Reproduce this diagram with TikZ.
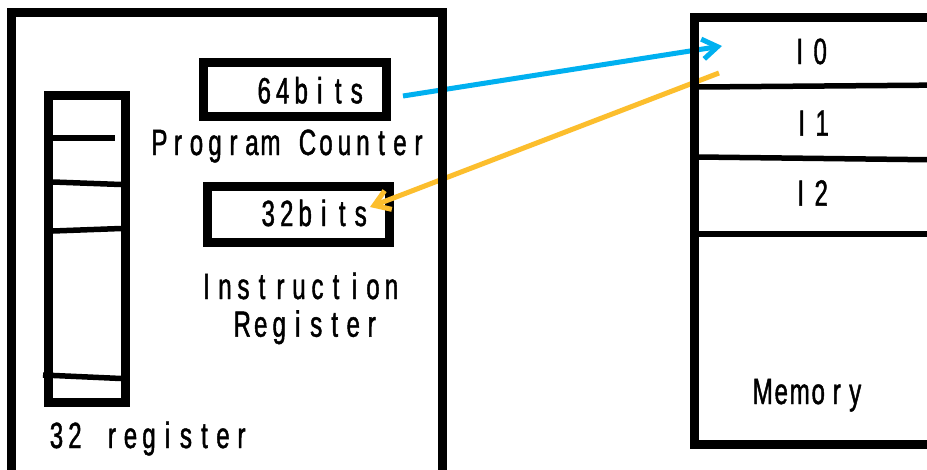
\documentclass[tikz,border=0pt]{standalone}
\usepackage{fontspec}
\usetikzlibrary{arrows.meta}
\newfontfamily\cellfont[FakeStretch=0.66,FakeBold=1.2]{Liberation Sans}
\definecolor{fetchblue}{RGB}{0,176,240}
\definecolor{loadorange}{RGB}{252,190,45}

% set a string one character per fixed-width cell
\ExplSyntaxOn
\NewDocumentCommand\cellstr{O{18.5pt}m}
  { \str_map_inline:nn {#2} { \makebox[#1][c]{##1} } }
\ExplSyntaxOff

\begin{document}
\begin{tikzpicture}[x=1pt,y=-1pt,
  frame/.style={draw=black,line width=9pt},
  regbox/.style={draw=black,line width=9pt,inner sep=0pt,outer sep=0pt},
  slot/.style={draw=black,line width=5.5pt},
  lbl/.style={font=\cellfont\fontsize{36.5}{40}\selectfont,anchor=base,inner sep=0pt},
  bus/.style={line width=5pt,-{Straight Barb[length=15pt,width=20pt]}}]
\clip (0,0) rectangle (927,469);
\fill[white] (0,0) rectangle (927,469);

% program counter and instruction register
\node[regbox,minimum width=182.3pt,minimum height=53.4pt] (pc) at (294.9,89.5) {};
\node[regbox,minimum width=181.3pt,minimum height=56.7pt] (ir) at (298.35,214.35) {};

% register file column
\node[regbox,minimum width=76.3pt,minimum height=306.5pt] (regs) at (86.85,248.75) {};
\draw[slot] (53,138) -- (115,138);
\draw[slot] (53,182) -- (121,184.5);
\draw[slot] (53,231) -- (121,228.5);
\draw[slot] (43,375) -- (121,378.5);

% connector end points
\coordinate (pcout) at (403,96);
\coordinate (memin) at (722,46);
\coordinate (memout) at (719,73);
\coordinate (irin) at (370,207);

% fetch address and instruction transfer
\draw[bus,fetchblue] (pcout) -- (memin);
\draw[bus,loadorange] (memout) -- (irin);

% processor outline
\draw[frame] (11.7,12.8) rectangle (442,490);

% memory outline and slots
\draw[frame] (694,17.5) rectangle (950,444);
\draw[slot] (698,87) -- (950,85);
\draw[slot] (698,157) -- (950,160);
\draw[slot] (698,234) -- (950,234);

% labels
\node[lbl] (pcval) at (310.5,103.3) {\cellstr{64bits}};
\node[lbl] (pcname) at (289,155) {\cellstr{Program Counter}};
\node[lbl] (irval) at (314.5,226) {\cellstr{32bits}};
\node[lbl] (irname1) at (299,299) {\cellstr{Instruction}};
\node[lbl] (irname2) at (307,336.7) {\cellstr{Register}};
\node[lbl] (regname) at (149,448) {\cellstr{32 register}};
\node[lbl] (m0) at (810,64) {\cellstr[20.5pt]{I0}};
\node[lbl] (m1) at (812,135.7) {\cellstr[20.5pt]{I1}};
\node[lbl] (m2) at (811,205.7) {\cellstr[20.5pt]{I2}};
\node[lbl] (memname) at (809,404) {\cellstr{Memory}};
\end{tikzpicture}
\end{document}
